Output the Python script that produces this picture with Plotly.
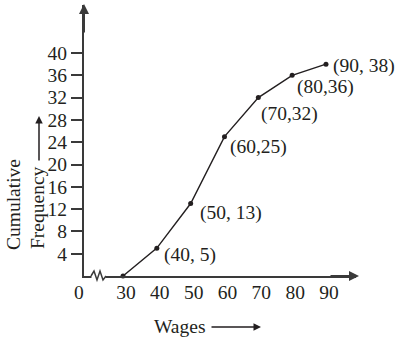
import plotly.graph_objects as go

# Data
wages = [30, 40, 50, 60, 70, 80, 90]
cum_freq = [0, 5, 13, 25, 32, 36, 38]
point_labels = [None, "(40, 5)", "(50, 13)", "(60,25)", "(70,32)", "(80,36)", "(90, 38)"]
x_ticks = [30, 40, 50, 60, 70, 80, 90]
x_ticktext = ["30", "40", "50", "60", "70", "80", "90"]
y_ticks = [4, 8, 12, 16, 20, 24, 28, 32, 36, 40]
y_ticktext = ["4", "8", "12", "16", "20", "24", "28", "32", "36", "40"]

FONT = "Liberation Serif"
TXT = "#231f20"
AX = "#3a3a3a"
FS = 19.5

W, H = 398, 342
PL, PR, PT, PB = 84, 356, 5, 276
YPX = 5.575   # px per y unit
XPX = 3.383   # px per x unit
x0 = 30 - (123 - PL) / XPX
x1 = x0 + (PR - PL) / XPX
y1 = (PB - PT) / YPX


def px(xp):
    return (xp - PL) / (PR - PL)


def py(yp):
    return (PB - yp) / (PB - PT)


fig = go.Figure()
fig.add_trace(go.Scatter(
    x=wages, y=cum_freq, mode="lines+markers",
    line=dict(color=TXT, width=1.4),
    marker=dict(color=TXT, size=5),
    cliponaxis=False, hoverinfo="skip", showlegend=False,
))

# point label offsets (pixels)
offsets = [None, (5, -7), (7, -9), (4, -10), (1, -16), (3, -12), (5, -2)]
annotations = []
for xv, yv, lab, off in zip(wages, cum_freq, point_labels, offsets):
    if lab is None:
        continue
    annotations.append(dict(
        x=xv, y=yv, xref="x", yref="y", text=lab, showarrow=False,
        xanchor="left", yanchor="middle", xshift=off[0], yshift=off[1],
        font=dict(family=FONT, size=FS, color=TXT),
    ))

# origin label
annotations.append(dict(x=px(79), y=py(292), xref="paper", yref="paper", text="0",
                        showarrow=False, xanchor="center", yanchor="middle",
                        font=dict(family=FONT, size=FS, color=TXT)))
# axis arrowheads
annotations.append(dict(x=0, y=py(4), xref="paper", yref="paper", text="", showarrow=True,
                        arrowhead=2, arrowsize=1, arrowwidth=2, arrowcolor=AX, ax=0, ay=30))
annotations.append(dict(x=px(359), y=0, xref="paper", yref="paper", text="", showarrow=True,
                        arrowhead=2, arrowsize=1, arrowwidth=2, arrowcolor=AX, ax=-30, ay=0))
# x title
annotations.append(dict(x=px(180), y=py(326), xref="paper", yref="paper", text="Wages",
                        showarrow=False, xanchor="center", yanchor="middle",
                        font=dict(family=FONT, size=FS, color=TXT)))
annotations.append(dict(x=px(261), y=py(327), xref="paper", yref="paper", text="", showarrow=True,
                        arrowhead=2, arrowsize=1, arrowwidth=1.5, arrowcolor=TXT, ax=-51, ay=0))
# y title
annotations.append(dict(x=px(13), y=py(205), xref="paper", yref="paper", text="Cumulative",
                        showarrow=False, textangle=-90, xanchor="center", yanchor="middle",
                        font=dict(family=FONT, size=FS, color=TXT)))
annotations.append(dict(x=px(37), y=py(208), xref="paper", yref="paper", text="Frequency",
                        showarrow=False, textangle=-90, xanchor="center", yanchor="middle",
                        font=dict(family=FONT, size=FS, color=TXT)))
annotations.append(dict(x=px(39), y=py(116), xref="paper", yref="paper", text="", showarrow=True,
                        arrowhead=2, arrowsize=1, arrowwidth=1.5, arrowcolor=TXT, ax=0, ay=46))

zig = [(91, 276), (94, 271), (97, 280), (100, 271), (103, 280), (106, 276)]
path = "M " + " L ".join(f"{px(a)},{py(b)}" for a, b in zig)
shapes = [
    dict(type="rect", xref="paper", yref="paper", x0=px(91.5), x1=px(105.5),
         y0=py(278.5), y1=py(273.5), fillcolor="white", line=dict(width=0), layer="above"),
    dict(type="path", xref="paper", yref="paper", path=path,
         line=dict(color=AX, width=1.5), layer="above"),
]

fig.update_layout(
    width=W, height=H,
    margin=dict(l=PL, r=W - PR, t=PT, b=H - PB),
    paper_bgcolor="white", plot_bgcolor="white",
    showlegend=False,
    annotations=annotations, shapes=shapes,
    xaxis=dict(range=[x0, x1], tickvals=x_ticks, ticktext=x_ticktext, ticks="",
               showgrid=False, zeroline=False, showline=True, linecolor=AX, linewidth=2,
               tickfont=dict(family=FONT, size=FS, color=TXT), ticklabelstandoff=-2,
               ticklabelshift=3, fixedrange=True),
    yaxis=dict(range=[0, y1], tickvals=y_ticks, ticktext=y_ticktext, ticks="outside",
               ticklen=11, tickwidth=2, tickcolor=AX,
               showgrid=False, zeroline=False, showline=True, linecolor=AX, linewidth=2,
               tickfont=dict(family=FONT, size=FS, color=TXT), fixedrange=True),
)

fig.write_html("out.html")
